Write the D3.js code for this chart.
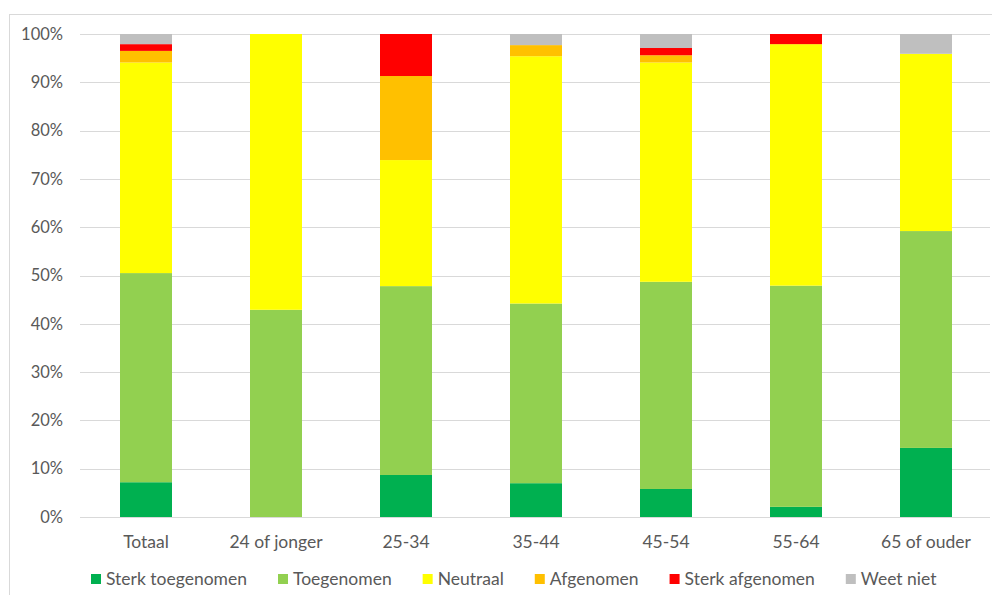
<!DOCTYPE html>
<html>
<head>
<meta charset="utf-8">
<script src="https://cdn.jsdelivr.net/npm/d3@7"></script>
<style>
  html, body { margin: 0; padding: 0; background: #fff; }
  svg { display: block; }
  text { font-family: Lato, "Open Sans", sans-serif; fill: #595959; }
</style>
</head>
<body>
<svg id="chart" width="992" height="595"></svg>
<script>
// Age groups and answer categories (percentages per group)
const categories = ["Totaal", "24 of jonger", "25-34", "35-44", "45-54", "55-64", "65 of ouder"];
const seriesNames = ["Sterk toegenomen", "Toegenomen", "Neutraal", "Afgenomen", "Sterk afgenomen", "Weet niet"];
const sterkToegenomen = [7.2, 0, 8.7, 7.0, 5.8, 2.1, 14.3];
const toegenomen      = [43.3, 42.9, 39.1, 37.2, 42.9, 45.8, 44.9];
const neutraal        = [43.6, 57.1, 26.1, 51.2, 45.4, 50.0, 36.7];
const afgenomen       = [2.4, 0, 17.4, 2.3, 1.5, 0, 0];
const sterkAfgenomen  = [1.4, 0, 8.7, 0, 1.5, 2.1, 0];
const weetNiet        = [2.1, 0, 0, 2.3, 2.9, 0, 4.1];
const yTicks = [0, 10, 20, 30, 40, 50, 60, 70, 80, 90, 100];
const colors = ["#00B050", "#92D050", "#FFFF00", "#FFC000", "#FF0000", "#BFBFBF"];

const seriesValues = [sterkToegenomen, toegenomen, neutraal, afgenomen, sterkAfgenomen, weetNiet];
const rows = categories.map((c, i) => {
  const r = { cat: c };
  seriesNames.forEach((s, j) => { r[s] = seriesValues[j][i]; });
  return r;
});

const svg = d3.select("#chart");

// outer chart frame
svg.append("rect")
  .attr("x", 9.5).attr("y", 14.5)
  .attr("width", 1000).attr("height", 600)
  .attr("fill", "#fff").attr("stroke", "#d9d9d9").attr("stroke-width", 1);

const x = d3.scaleBand().domain(categories).range([81, 991]).paddingInner(0.6).paddingOuter(0.3);
const y = d3.scaleLinear().domain([0, 100]).range([517, 34]);

// gridlines
svg.append("g").selectAll("line").data(yTicks).join("line")
  .attr("x1", 80).attr("x2", 990)
  .attr("y1", d => Math.round(y(d)) + 0.5).attr("y2", d => Math.round(y(d)) + 0.5)
  .attr("stroke", "#d9d9d9").attr("stroke-width", 1);

// y axis labels
const yAxis = d3.axisLeft(y).tickValues(yTicks).tickFormat(d => d + "%").tickSize(0).tickPadding(0);
const gy = svg.append("g").attr("transform", "translate(63,0)").call(yAxis);
gy.select(".domain").remove();
gy.selectAll("text").attr("font-size", 16.5).attr("fill", "#595959")
  .style("font-family", "Lato, sans-serif");

// stacked bars
const stack = d3.stack().keys(seriesNames);
const layers = stack(rows);
svg.append("g").selectAll("g").data(layers).join("g")
  .attr("fill", (d, i) => colors[i])
  .selectAll("rect").data(d => d).join("rect")
  .attr("x", d => x(d.data.cat))
  .attr("width", x.bandwidth())
  .attr("y", d => y(d[1]))
  .attr("height", d => Math.max(0, y(d[0]) - y(d[1])));

// x axis labels
const xAxis = d3.axisBottom(x).tickSize(0).tickPadding(0);
const gx = svg.append("g").attr("transform", "translate(0,542)").call(xAxis);
gx.select(".domain").remove();
gx.selectAll("text").attr("font-size", 17.5).attr("fill", "#595959")
  .attr("dy", "0.35em")
  .style("font-family", "Lato, sans-serif");

// legend
const legend = svg.append("g");
const items = legend.selectAll("g").data(seriesNames).join("g");
items.append("rect").attr("width", 10).attr("height", 10).attr("y", -5)
  .attr("fill", (d, i) => colors[i]);
items.append("text").attr("x", 15).attr("dy", "0.35em")
  .attr("font-size", 17.5).text(d => d);
const gap = 31;
const widths = [];
items.each(function () { widths.push(this.getBBox().width); });
let pos = 91;
items.attr("transform", (d, i) => {
  const t = `translate(${pos},579)`;
  pos += widths[i] + gap;
  return t;
});
</script>
</body>
</html>
